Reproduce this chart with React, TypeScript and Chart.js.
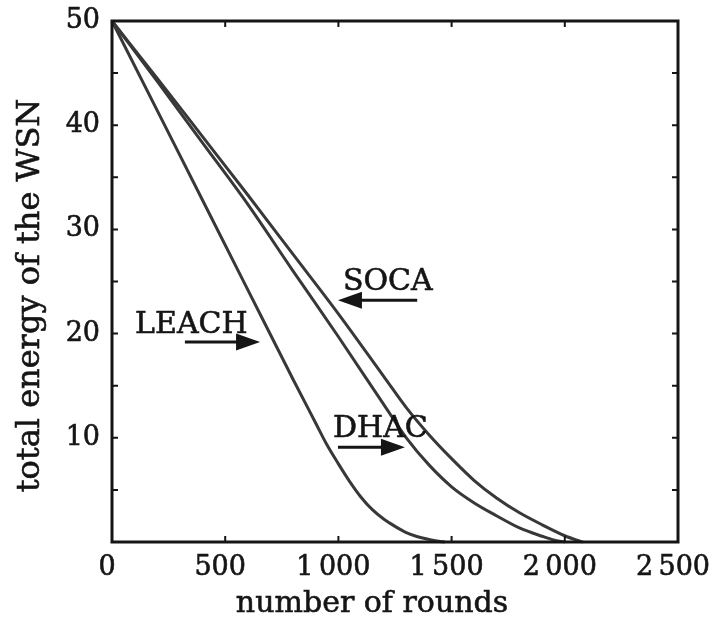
import React, { useEffect, useRef } from 'react';
import { Chart, registerables } from 'chart.js';

Chart.register(...registerables);

// ---- data ----
const LEACH_ROUNDS = [0, 200, 400, 600, 800, 900, 950, 1000, 1050, 1100, 1150, 1200, 1250, 1300, 1350, 1400, 1450, 1470];
const LEACH_ENERGY = [50, 41.4, 32.8, 24.2, 15.6, 11.4, 9.3, 7.5, 5.8, 4.3, 3.1, 2.2, 1.5, 0.9, 0.5, 0.25, 0.05, 0];

const DHAC_ROUNDS = [0, 200, 400, 600, 800, 1000, 1200, 1300, 1400, 1500, 1600, 1700, 1800, 1900, 1950, 2000];
const DHAC_ENERGY = [50, 44.2, 38.3, 32.4, 26.0, 19.7, 13.2, 10.0, 7.4, 5.3, 3.75, 2.5, 1.35, 0.55, 0.2, 0];

const SOCA_ROUNDS = [0, 200, 400, 600, 800, 1000, 1200, 1300, 1400, 1500, 1600, 1700, 1800, 1900, 2000, 2050, 2080];
const SOCA_ENERGY = [50, 44.5, 38.9, 33.3, 27.6, 21.9, 15.9, 12.9, 10.3, 8.0, 5.9, 4.2, 2.8, 1.65, 0.6, 0.2, 0];

const SERIES_NAMES = ['LEACH', 'DHAC', 'SOCA'];

const X_MIN = 0;
const X_MAX = 2500;
const X_STEP = 500;
const Y_MIN = 0;
const Y_MAX = 50;
const Y_STEP = 5;
const Y_LABEL_STEP = 10;

const X_TITLE = 'number of rounds';
const Y_TITLE = 'total energy of the WSN';

// annotation anchors, in data units (rounds, energy)
const LABEL_X = [102, 976, 1020];
const LABEL_Y = [20.1, 10.1, 24.2];
const ARROW_FROM_X = [322, 998, 1348];
const ARROW_TO_X = [654, 1294, 998];
const ARROW_Y = [19.2, 9.1, 23.2];

const FONT = '"DejaVu Serif", "Liberation Serif", serif';
const LINE_COLOR = '#383838';
const INK = '#151515';

function fmtRounds(v: number): string {
  if (v >= 1000) {
    const th = Math.floor(v / 1000);
    const rest = String(v % 1000).padStart(3, '0');
    return th + '\u2009' + rest;
  }
  return String(v);
}

function boldText(ctx: CanvasRenderingContext2D, s: string, x: number, y: number) {
  ctx.fillText(s, x, y);
  ctx.strokeText(s, x, y);
}

const decorPlugin = {
  id: 'decor',
  afterDraw(chart: any) {
    const { ctx, chartArea: a, scales } = chart;
    const x = scales.x;
    const y = scales.y;
    ctx.save();

    // inward ticks
    ctx.strokeStyle = INK;
    ctx.lineWidth = 2;
    x.ticks.forEach((t: any) => {
      const v = t.value;
      if (v <= X_MIN || v >= X_MAX) return;
      const px = x.getPixelForValue(v);
      ctx.beginPath();
      ctx.moveTo(px, a.bottom);
      ctx.lineTo(px, a.bottom - 6);
      ctx.moveTo(px, a.top);
      ctx.lineTo(px, a.top + 6);
      ctx.stroke();
    });
    y.ticks.forEach((t: any) => {
      const v = t.value;
      if (v <= Y_MIN || v >= Y_MAX) return;
      const py = y.getPixelForValue(v);
      ctx.beginPath();
      ctx.moveTo(a.left, py);
      ctx.lineTo(a.left + 6, py);
      ctx.moveTo(a.right, py);
      ctx.lineTo(a.right - 6, py);
      ctx.stroke();
    });

    // frame
    ctx.lineWidth = 3;
    ctx.strokeStyle = INK;
    ctx.strokeRect(a.left, a.top, a.right - a.left, a.bottom - a.top);

    // annotations
    ctx.fillStyle = INK;
    ctx.font = `30px ${FONT}`;
    ctx.textAlign = 'left';
    ctx.textBaseline = 'alphabetic';
    SERIES_NAMES.forEach((name, i) => {
      ctx.lineWidth = 0.6;
      boldText(ctx, name, x.getPixelForValue(LABEL_X[i]), y.getPixelForValue(LABEL_Y[i]));
      const x0 = x.getPixelForValue(ARROW_FROM_X[i]);
      const x1 = x.getPixelForValue(ARROW_TO_X[i]);
      const py = y.getPixelForValue(ARROW_Y[i]);
      const dir = x1 > x0 ? 1 : -1;
      const headLen = 24;
      const headHalf = 8.5;
      ctx.lineWidth = 3;
      ctx.beginPath();
      ctx.moveTo(x0, py);
      ctx.lineTo(x1 - dir * headLen * 0.8, py);
      ctx.stroke();
      ctx.beginPath();
      ctx.moveTo(x1, py);
      ctx.lineTo(x1 - dir * headLen, py - headHalf);
      ctx.lineTo(x1 - dir * headLen, py + headHalf);
      ctx.closePath();
      ctx.fill();
    });

    // axis titles
    ctx.lineWidth = 0.6;
    ctx.font = `30px ${FONT}`;
    ctx.textAlign = 'center';
    ctx.textBaseline = 'alphabetic';
    boldText(ctx, X_TITLE, (a.left + a.right) / 2 - 23, a.bottom + 70);

    ctx.save();
    ctx.translate(a.left - 73, (a.top + a.bottom) / 2 + 14);
    ctx.rotate(-Math.PI / 2);
    ctx.font = `32px ${FONT}`;
    boldText(ctx, Y_TITLE, 0, 0);
    ctx.restore();

    ctx.restore();
  },
};

export default function App() {
  const ref = useRef<HTMLCanvasElement | null>(null);

  useEffect(() => {
    if (!ref.current) return;
    const mk = (xs: number[], ys: number[]) => xs.map((v, i) => ({ x: v, y: ys[i] }));
    const chart = new Chart(ref.current, {
      type: 'line',
      data: {
        datasets: [
          { label: SERIES_NAMES[0], data: mk(LEACH_ROUNDS, LEACH_ENERGY) },
          { label: SERIES_NAMES[1], data: mk(DHAC_ROUNDS, DHAC_ENERGY) },
          { label: SERIES_NAMES[2], data: mk(SOCA_ROUNDS, SOCA_ENERGY) },
        ].map((d) => ({
          ...d,
          borderColor: LINE_COLOR,
          borderWidth: 3,
          pointRadius: 0,
          fill: false,
          cubicInterpolationMode: 'monotone' as const,
          clip: false as any,
        })),
      },
      options: {
        animation: false,
        responsive: false,
        maintainAspectRatio: false,
        layout: { padding: { left: 0, top: 21, right: 34, bottom: 0 } },
        plugins: { legend: { display: false }, tooltip: { enabled: false }, title: { display: false } },
        scales: {
          x: {
            type: 'linear',
            min: X_MIN,
            max: X_MAX,
            grid: { display: false, drawTicks: false },
            border: { display: false },
            ticks: {
              stepSize: X_STEP,
              padding: 10,
              labelOffset: -5,
              maxRotation: 0,
              autoSkip: false,
              color: INK,
              textStrokeColor: INK,
              textStrokeWidth: 0.6,
              font: { family: FONT, size: 27 },
              callback: (v: any) => fmtRounds(Number(v)),
            } as any,
            afterFit: (s: any) => {
              s.height = 77;
              s.paddingLeft = 0;
              s.paddingRight = 0;
            },
          },
          y: {
            type: 'linear',
            min: Y_MIN,
            max: Y_MAX,
            grid: { display: false, drawTicks: false },
            border: { display: false },
            ticks: {
              stepSize: Y_STEP,
              padding: 12,
              autoSkip: false,
              color: INK,
              textStrokeColor: INK,
              textStrokeWidth: 0.6,
              font: { family: FONT, size: 27 },
              callback: (v: any) => {
                const n = Number(v);
                return n > Y_MIN && n % Y_LABEL_STEP === 0 ? String(n) : '';
              },
            } as any,
            afterFit: (s: any) => {
              s.width = 112;
              s.paddingTop = 0;
              s.paddingBottom = 0;
            },
          },
        },
      },
      plugins: [decorPlugin],
    });
    return () => chart.destroy();
  }, []);

  return (
    <div style={{ position: 'fixed', left: 0, top: 0, width: 712, height: 619, background: '#fff' }}>
      <canvas ref={ref} width={712} height={619} style={{ width: 712, height: 619, display: 'block' }} />
    </div>
  );
}
